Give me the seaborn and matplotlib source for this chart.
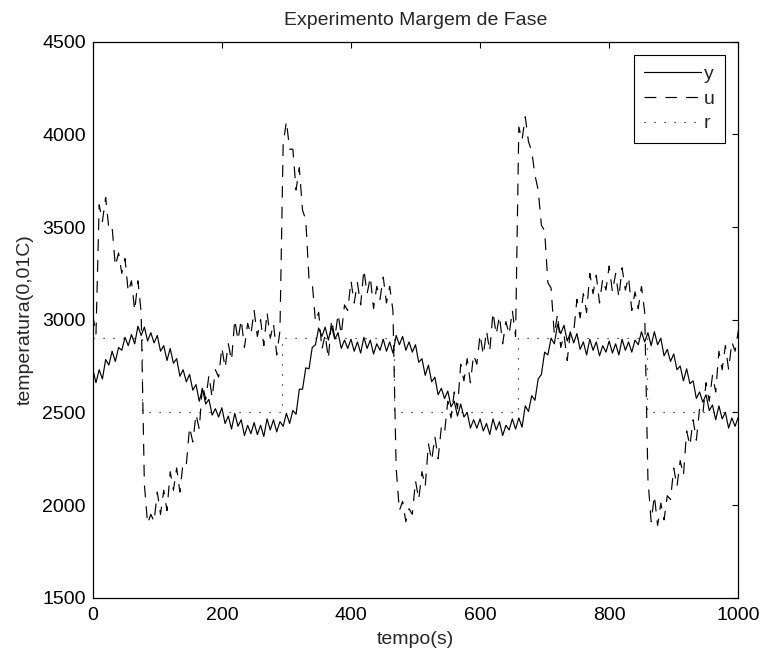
import numpy as np
import pandas as pd
import matplotlib
matplotlib.use("Agg")
import matplotlib.pyplot as plt
import seaborn as sns

# sample times (s) for y and u, one every 5 s
tempo = np.arange(0, 1001, 5)

y_vals = [
    2735, 2660, 2730, 2680, 2785, 2755, 2830, 2775, 2850, 2835,
    2905, 2860, 2920, 2870, 2965, 2915, 2960, 2885, 2930, 2875,
    2915, 2830, 2860, 2780, 2845, 2765, 2790, 2695, 2730, 2665,
    2705, 2620, 2650, 2560, 2625, 2545, 2570, 2485, 2520, 2475,
    2525, 2440, 2480, 2410, 2495, 2425, 2460, 2375, 2430, 2385,
    2445, 2380, 2430, 2370, 2465, 2405, 2460, 2395, 2450, 2425,
    2495, 2440, 2510, 2490, 2625, 2625, 2740, 2735, 2850, 2865,
    2955, 2910, 2960, 2890, 2965, 2895, 2930, 2845, 2890, 2845,
    2895, 2830, 2880, 2820, 2905, 2845, 2890, 2815, 2870, 2835,
    2895, 2830, 2880, 2820, 2915, 2865, 2910, 2835, 2880, 2825,
    2865, 2770, 2790, 2700, 2755, 2665, 2690, 2595, 2630, 2575,
    2615, 2530, 2560, 2480, 2545, 2475, 2500, 2415, 2460, 2415,
    2465, 2400, 2440, 2380, 2465, 2405, 2450, 2375, 2430, 2405,
    2465, 2410, 2470, 2420, 2535, 2505, 2590, 2565, 2680, 2705,
    2825, 2810, 2900, 2870, 2975, 2925, 2970, 2885, 2930, 2875,
    2925, 2840, 2880, 2810, 2895, 2835, 2880, 2805, 2860, 2825,
    2885, 2820, 2870, 2810, 2895, 2835, 2880, 2825, 2890, 2865,
    2935, 2880, 2930, 2860, 2935, 2865, 2900, 2805, 2840, 2775,
    2815, 2730, 2750, 2670, 2735, 2655, 2670, 2575, 2610, 2555,
    2595, 2510, 2540, 2460, 2535, 2465, 2500, 2415, 2470, 2425,
    2475,
]

# u: control signal
u_vals = [
    3030, 2920, 3620, 3530, 3660, 3490, 3500, 3290, 3360, 3250,
    3330, 3150, 3210, 3050, 3210, 3040, 2110, 1900, 1950, 1910,
    2070, 1950, 2080, 1970, 2180, 2080, 2200, 2070, 2230, 2220,
    2420, 2340, 2490, 2410, 2650, 2570, 2700, 2580, 2730, 2690,
    2850, 2740, 2870, 2780, 3000, 2890, 3000, 2850, 2980, 2920,
    3050, 2910, 3000, 2860, 3040, 2900, 2980, 2810, 2940, 3950,
    4070, 3920, 3920, 3700, 3820, 3590, 3540, 3220, 3200, 2990,
    3040, 2840, 2920, 2790, 3000, 2900, 3030, 2920, 3080, 3050,
    3210, 3090, 3200, 3080, 3270, 3140, 3230, 3060, 3180, 3110,
    3230, 3090, 3180, 3050, 2200, 1970, 2020, 1910, 1980, 1950,
    2130, 2030, 2180, 2100, 2330, 2240, 2370, 2250, 2420, 2390,
    2560, 2470, 2610, 2520, 2760, 2670, 2790, 2660, 2810, 2760,
    2920, 2810, 2940, 2830, 3040, 2920, 3020, 2870, 2990, 2920,
    3050, 2910, 4040, 3970, 4095, 3960, 3910, 3780, 3700, 3510,
    3480, 3200, 3170, 2920, 3030, 2850, 2920, 2780, 2940, 2930,
    3110, 3010, 3140, 3040, 3250, 3140, 3240, 3090, 3220, 3160,
    3290, 3150, 3250, 3120, 3280, 3160, 3230, 3050, 3150, 3060,
    3180, 3040, 2140, 1910, 2050, 1890, 2010, 1920, 2050, 2030,
    2200, 2100, 2240, 2160, 2400, 2320, 2460, 2350, 2520, 2490,
    2660, 2560, 2700, 2610, 2830, 2730, 2860, 2730, 2880, 2830,
    2940,
]

# r: reference, square wave between two set points
r_times = [0, 77, 293, 467, 658, 858, 1000]
r_levels = [2900, 2500, 2900, 2500, 2900, 2500, 2500]

sns.set_style("white")
plt.rcParams["font.family"] = ["Liberation Sans", "DejaVu Sans"]
plt.rcParams["lines.scale_dashes"] = False

fig = plt.figure(figsize=(7.62, 6.53), dpi=100)
ax = fig.add_axes([0.1217, 0.0847, 0.8472, 0.8514])

lw = 0.85
sns.lineplot(x=tempo, y=y_vals, ax=ax, color="black", linewidth=lw, label="y")
sns.lineplot(x=tempo, y=u_vals, ax=ax, color="black", linewidth=lw,
             linestyle=(0, (8.5, 6.5)), label="u")
sns.lineplot(x=r_times, y=r_levels, ax=ax, color="black", linewidth=lw,
             linestyle=(0, (0.8, 6.4)), drawstyle="steps-post", label="r")

ax.set_xlim(0, 1000)
ax.set_ylim(1500, 4500)
ax.set_xticks(range(0, 1001, 200))
ax.set_yticks(range(1500, 4501, 500))

ax.tick_params(direction="in", length=4.5, width=0.8, labelsize=14,
               top=True, right=True, color="black", labelcolor="black")
ax.tick_params(axis="x", pad=7)
ax.tick_params(axis="y", pad=5)
for s in ax.spines.values():
    s.set_color("black")
    s.set_linewidth(0.9)

ax.set_title("Experimento Margem de Fase", fontsize=14, pad=12)
ax.set_xlabel("tempo(s)", fontsize=14, labelpad=5)
ax.set_ylabel("temperatura(0,01C)", fontsize=14, labelpad=6)

leg = ax.legend(loc="upper right", fontsize=14, frameon=True, fancybox=False,
                framealpha=1, edgecolor="black", handlelength=2.9,
                handletextpad=0.15, labelspacing=0.36, borderpad=0.55,
                borderaxespad=0.68)
leg.get_frame().set_linewidth(0.8)

fig.savefig("out.png", dpi=100)
plt.close()
